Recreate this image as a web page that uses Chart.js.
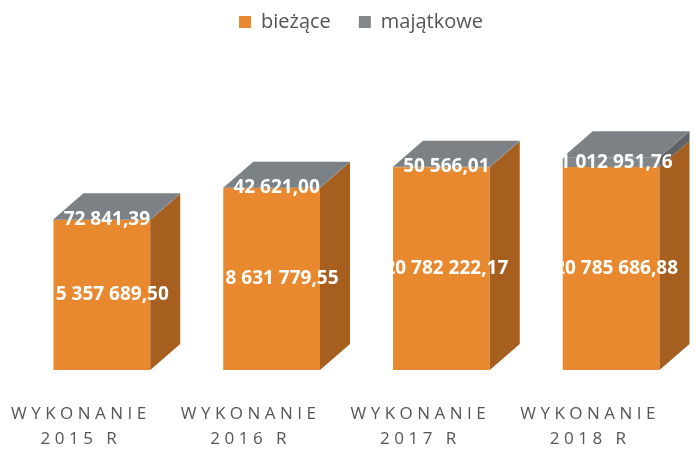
<!DOCTYPE html>
<html>
<head>
<meta charset="utf-8">
<script src="https://cdn.jsdelivr.net/npm/chart.js"></script>
<style>
  body { margin: 0; background: #fff; }
  #wrap { width: 696px; height: 450px; position: relative; }
</style>
</head>
<body>
<div id="wrap"><canvas id="chart"></canvas></div>
<script>
// dane z wykresu
const categories = [
    ['WYKONANIE', '2015 R'],
    ['WYKONANIE', '2016 R'],
    ['WYKONANIE', '2017 R'],
    ['WYKONANIE', '2018 R']
];
const biezace = [15357689.50, 18631779.55, 20782222.17, 20785686.88];
const majatkowe = [72841.39, 42621.00, 50566.01, 1012951.76];

const seriesNames = ['bieżące', 'majątkowe'];

// kolory ścian "3D"
const frontColors = ['#E8892F', '#83878A'];
const sideColors = ['#A65F1F', '#5F6366'];
const topColor = '#7C8185';
const DX = 30, DY = -26;

// format liczby: 1 234 567,89
function fmt(v) {
    const parts = v.toFixed(2).split('.');
    return parts[0].replace(/\B(?=(\d{3})+(?!\d))/g, ' ') + ',' + parts[1];
}

// rysowanie bocznych i górnych ścian słupków + etykiety
const bars3d = {
    id: 'bars3d',
    beforeDraw(chart) {
        // szersze odstępy liter w etykietach osi X
        const s = chart.scales.x;
        if (s && !s.__spaced) {
            const orig = s.drawLabels;
            s.drawLabels = function (area) {
                this.ctx.save();
                this.ctx.letterSpacing = '4.5px';
                orig.call(this, area);
                this.ctx.restore();
            };
            s.__spaced = true;
        }
    },
    afterDatasetsDraw(chart) {
        const ctx = chart.ctx;
        const n = chart.data.datasets.length;
        ctx.save();
        for (let d = 0; d < n; d++) {
            const meta = chart.getDatasetMeta(d);
            meta.data.forEach(bar => {
                const p = bar.getProps(['x', 'y', 'base', 'width'], true);
                const L = p.x - p.width / 2, R = p.x + p.width / 2;
                const top = Math.min(p.y, p.base), bot = Math.max(p.y, p.base);
                ctx.fillStyle = sideColors[d];
                ctx.beginPath();
                ctx.moveTo(R, top);
                ctx.lineTo(R + DX, top + DY);
                ctx.lineTo(R + DX, bot + DY);
                ctx.lineTo(R, bot);
                ctx.closePath();
                ctx.fill();
                if (d === n - 1) {
                    ctx.fillStyle = topColor;
                    ctx.beginPath();
                    ctx.moveTo(L, top);
                    ctx.lineTo(L + DX, top + DY);
                    ctx.lineTo(R + DX, top + DY);
                    ctx.lineTo(R, top);
                    ctx.closePath();
                    ctx.fill();
                }
            });
        }
        // etykiety wartości (przycięte z lewej do krawędzi słupka)
        ctx.font = 'bold 19px "Open Sans", sans-serif';
        ctx.fillStyle = '#fff';
        ctx.textAlign = 'center';
        ctx.textBaseline = 'middle';
        for (let d = 0; d < n; d++) {
            const meta = chart.getDatasetMeta(d);
            const values = chart.data.datasets[d].data;
            meta.data.forEach((bar, i) => {
                const p = bar.getProps(['x', 'y', 'base', 'width'], true);
                const L = p.x - p.width / 2;
                ctx.save();
                ctx.beginPath();
                ctx.rect(L, 0, chart.width - L, chart.height);
                ctx.clip();
                ctx.fillText(fmt(values[i]), p.x + 5, (p.y + p.base) / 2);
                ctx.restore();
            });
        }
        ctx.restore();
    }
};

new Chart(document.getElementById('chart'), {
    type: 'bar',
    data: {
        labels: categories,
        datasets: [
            { label: seriesNames[0], data: biezace, backgroundColor: frontColors[0] },
            { label: seriesNames[1], data: majatkowe, backgroundColor: frontColors[1] }
        ]
    },
    options: {
        responsive: true,
        maintainAspectRatio: false,
        animation: false,
        layout: { padding: { left: 17, right: -9, top: -16, bottom: -33 } },
        datasets: { bar: { categoryPercentage: 1, barPercentage: 0.57 } },
        plugins: {
            legend: {
                position: 'top',
                labels: {
                    boxWidth: 12,
                    boxHeight: 12,
                    padding: 28,
                    color: '#555',
                    font: { family: '"Open Sans", sans-serif', size: 20 }
                }
            },
            tooltip: { enabled: false }
        },
        scales: {
            x: {
                stacked: true,
                grid: { display: false, drawTicks: false },
                border: { display: false },
                ticks: {
                    padding: 31,
                    labelOffset: -21,
                    color: '#555',
                    font: { family: '"Open Sans", sans-serif', size: 17, lineHeight: 1.5 },
                    maxRotation: 0
                }
            },
            y: {
                stacked: true,
                display: false,
                min: 0,
                max: 33600000
            }
        }
    },
    plugins: [bars3d]
});
</script>
</body>
</html>
